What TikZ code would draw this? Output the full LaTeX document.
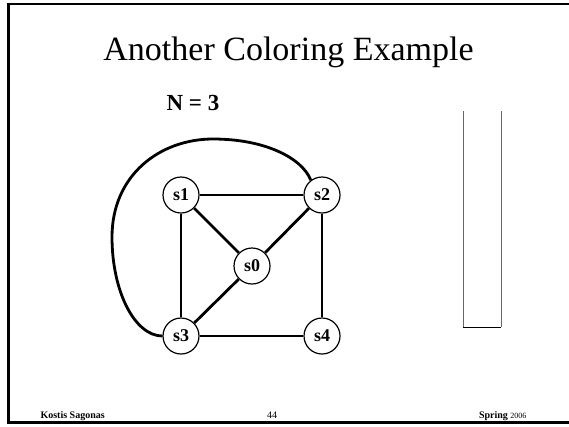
\documentclass[tikz,border=0pt]{standalone}
\usepackage{fontspec}
\setmainfont{Liberation Serif}
\usepackage{tikz}
\usetikzlibrary{calc}

\begin{document}
\begin{tikzpicture}[x=1pt, y=-1pt, every node/.style={align=center},
    vertex/.style={circle, draw, line width=1.2pt, fill=white, minimum size=36pt, inner sep=0pt, font=\fontsize{18}{20}\selectfont\bfseries},
    edge/.style={line width=2.8pt},
    boxside/.style={line width=1pt, black!60}]
  \useasboundingbox (0,0) rectangle (569,426);
  % Slide border
  \draw[line width=2.7pt] (570,4) -- (8.7,4) -- (8.7,422.5) -- (570,422.5);

  % Title
  \node[anchor=base, font=\fontsize{34}{40}\selectfont] (title) at (288.5,60) {Another Coloring Example};
  \node[anchor=base west, font=\fontsize{23}{26}\selectfont\bfseries] (colors) at (163,110) {N = 3};

  % Graph
  \node[vertex] (s1) at (181,195) {s1};
  \node[vertex] (s2) at (322,195) {s2};
  \node[vertex] (s0) at (252,266) {s0};
  \node[vertex] (s3) at (181,336) {s3};
  \node[vertex] (s4) at (322,336) {s4};
  \draw[edge] (s1) -- (s2);
  \draw[edge] (s1) -- (s0);
  \draw[edge] (s0) -- (s2);
  \draw[edge] (s1) -- (s3);
  \draw[edge] (s3) -- (s0);
  \draw[edge] (s2) -- (s4);
  \draw[edge] (s3) -- (s4);
  % Outer edge s3--s2
  \coordinate (loopL) at (112,237);
  \coordinate (loopT) at (213,139);
  \draw[edge] (s3.west) .. controls (135,336) and (112,292) .. (loopL)
    .. controls (112,175) and (160,139) .. (loopT)
    .. controls (265,139) and (302,158) .. (s2.127);

  % Empty column
  \draw[boxside] (463,111) -- (463,327);
  \draw[boxside] (501,111) -- (501,327);
  \draw[line width=1pt] (463,327) -- (501,327);

  % Footer
  \node[anchor=base west, font=\fontsize{10}{12}\selectfont\bfseries] (author) at (37,418) {Kostis Sagonas};
  \node[anchor=base, font=\fontsize{10}{12}\selectfont] (page) at (272,418) {44};
  \node[anchor=base east, font=\fontsize{10}{12}\selectfont] (term) at (530,418) {\textbf{Spring} {\fontsize{8}{10}\selectfont 2006}};
\end{tikzpicture}
\end{document}
